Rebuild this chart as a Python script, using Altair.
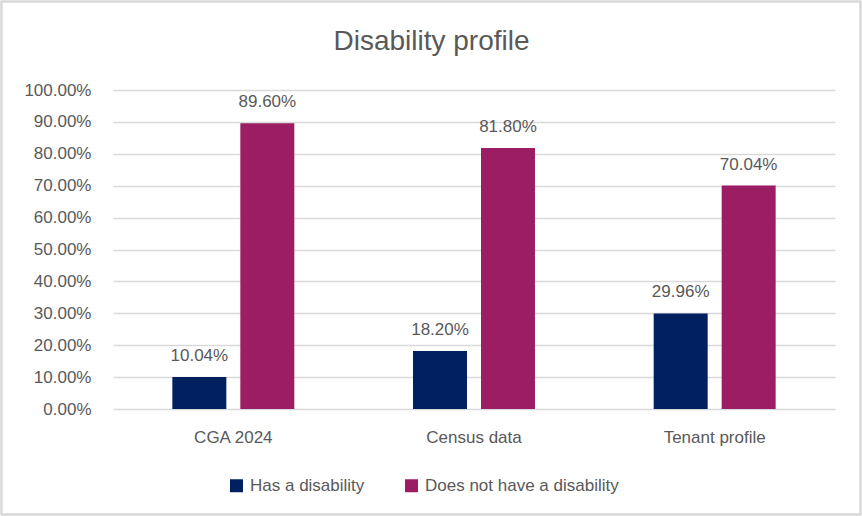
import altair as alt
import pandas as pd

categories = ["CGA 2024", "Census data", "Tenant profile"]
series = ["Has a disability", "Does not have a disability"]
has_disability = [0.1004, 0.1820, 0.2996]
no_disability = [0.8960, 0.8180, 0.7004]
colors = ["#002060", "#9B1D63"]
y_ticks = [i / 10 for i in range(11)]
title_text = "Disability profile"

rows = []
for c, a, b in zip(categories, has_disability, no_disability):
    rows.append({"cat": c, "series": series[0], "value": a})
    rows.append({"cat": c, "series": series[1], "value": b})
df = pd.DataFrame(rows)

W, H = 722, 319
FONT = "Liberation Sans"
TXT = "#595959"

x = alt.X("cat:N", sort=categories, title=None,
          scale=alt.Scale(paddingInner=0, paddingOuter=0),
          axis=alt.Axis(labelAngle=0, labelFontSize=17, labelColor=TXT, labelFont=FONT,
                        ticks=False, domain=False, labelPadding=20))
xo = alt.XOffset("series:N", sort=series,
                 scale=alt.Scale(paddingInner=0.206, paddingOuter=0.873))
y = alt.Y("value:Q", title=None,
          scale=alt.Scale(domain=[0, 1], nice=False),
          axis=alt.Axis(values=y_ticks, format=".2%", labelFontSize=17, labelColor=TXT,
                        labelFont=FONT, ticks=False, domain=False, labelPadding=22,
                        gridColor="#D9D9D9", gridWidth=1.5))
color = alt.Color("series:N", sort=series, title=None,
                  scale=alt.Scale(domain=series, range=colors),
                  legend=alt.Legend(orient="none", legendX=115, legendY=387, direction="horizontal",
                                    symbolType="square", symbolSize=169, symbolStrokeWidth=0,
                                    labelFontSize=17, labelColor=TXT, labelFont=FONT, labelLimit=400,
                                    columnPadding=38, labelOffset=5))

bars = alt.Chart(df).mark_bar().encode(x=x, xOffset=xo, y=y, color=color)
labels = alt.Chart(df).mark_text(dy=-21, fontSize=17, font=FONT, color=TXT).encode(
    x=x, xOffset=xo, y=y, text=alt.Text("value:Q", format=".2%"))
border = alt.Chart(df).mark_rect(fill=None, stroke="#D9D9D9", strokeWidth=1.5, clip=False).encode(
    x=alt.value(-111.5), x2=alt.value(W + 25.5), y=alt.value(-88.5), y2=alt.value(H + 105.5))
title = alt.Chart(pd.DataFrame({"t": [title_text]})).mark_text(
    fontSize=28, font=FONT, color=TXT, baseline="alphabetic", align="center").encode(
    text="t:N", x=alt.value(431.5 - 113), y=alt.value(50 - 90))

chart = alt.layer(bars, labels, border, title).properties(
    width=W, height=H,
    padding={"left": 113, "top": 90, "right": 27, "bottom": 107},
    autosize=alt.AutoSizeParams(type="none"),
    background="white",
).configure_view(stroke=None)

chart.save("out.html", embed_options={"renderer": "svg", "actions": False})
